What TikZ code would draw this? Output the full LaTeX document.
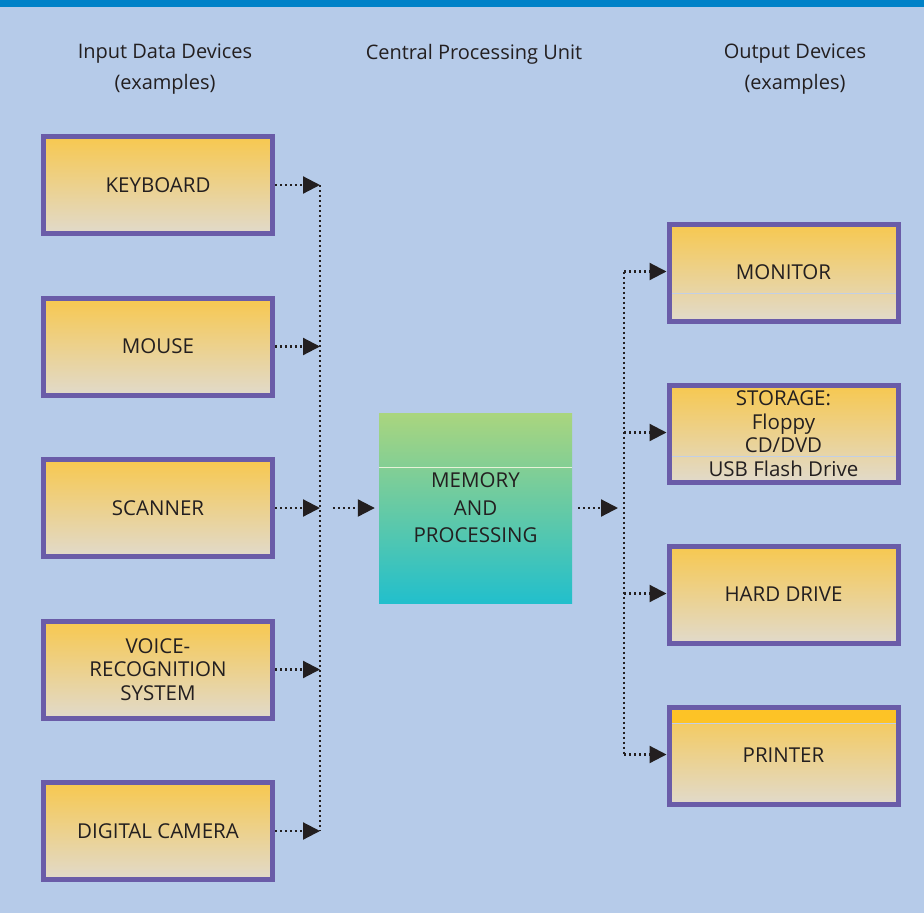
\documentclass[tikz,border=0pt]{standalone}
\usepackage{fontspec}
\setmainfont{Open Sans}
\usepackage{tikz}
\usetikzlibrary{arrows.meta,positioning}
\definecolor{bgblue}{HTML}{B6CBE9}
\definecolor{barblue}{HTML}{0082C8}
\definecolor{boxpurple}{HTML}{6A5CA8}
\definecolor{boxtop}{HTML}{F7C84F}
\definecolor{boxbottom}{HTML}{E1DACB}
\definecolor{striptop}{HTML}{FDC326}
\definecolor{cputop}{HTML}{AAD57E}
\definecolor{cpubottom}{HTML}{22BFCC}
\definecolor{sepblue}{HTML}{C2CFE6}
\definecolor{ink}{HTML}{231F20}
\tikzset{>={Triangle[length=17pt,width=17pt]},
  dev node/.style={rectangle,draw=boxpurple,line width=5pt,top color=boxtop,bottom color=boxbottom,minimum width=229pt,minimum height=97pt,inner sep=2pt,align=center,text=ink,font=\fontsize{20.5}{23.5}\selectfont},
  cpu node/.style={rectangle,top color=cputop,bottom color=cpubottom,minimum width=193pt,minimum height=190pt,inner sep=0pt,align=center,text=ink,font=\fontsize{20.5}{27.5}\selectfont},
  head node/.style={align=center,text=ink,font=\fontsize{20}{31}\selectfont},
  link/.style={draw=ink,line width=2.2pt,dash pattern=on 2pt off 3pt},
  sep line/.style={draw=sepblue,line width=1pt}}

\begin{document}
\begin{tikzpicture}[x=1pt,y=-1pt]
    \useasboundingbox (0,0) rectangle (924,913);
    \fill[bgblue] (0,0) rectangle (924,913);
    \fill[barblue] (0,0) rectangle (924,7);

    % headings
    \node[head node] (hin) at (165,69) {Input Data Devices\\(examples)};
    \node[head node] (hcpu) at (474,54) {Central Processing Unit};
    \node[head node] (hout) at (795,69) {Output Devices\\(examples)};

    % input devices
    \node[dev node, on grid] (kbd) at (158,185) {KEYBOARD};
    \node[dev node, on grid] (mse) [below = 161.5pt of kbd] {MOUSE};
    \node[dev node, on grid] (scn) [below = 161.5pt of mse] {SCANNER};
    \node[dev node, on grid] (vrs) [below = 161.5pt of scn] {VOICE-\\RECOGNITION\\SYSTEM};
    \node[dev node, on grid] (cam) [below = 161.5pt of vrs] {DIGITAL CAMERA};

    % processing
    \node[cpu node] (cpu) at (475.5,508) {MEMORY\\AND\\PROCESSING};
    \draw[sep line,draw=white!70!cputop] ([yshift=-55pt]cpu.north west) -- ([yshift=-55pt]cpu.north east);

    % output devices
    \node[dev node, on grid] (mon) at (783.5,272.5) {MONITOR};
    \node[dev node, on grid] (sto) [below = 161pt of mon] {STORAGE:\\Floppy\\CD/DVD\\USB Flash Drive};
    \node[dev node, on grid] (hdd) [below = 161pt of sto] {HARD DRIVE};
    \node[dev node, on grid] (prt) [below = 161pt of hdd] {PRINTER};
    \draw[sep line] ([xshift=5pt,yshift=30.5pt]mon.south west) -- ([xshift=-5pt,yshift=30.5pt]mon.south east);
    \draw[sep line] ([xshift=5pt,yshift=28.5pt]sto.south west) -- ([xshift=-5pt,yshift=28.5pt]sto.south east);
    \fill[striptop] ([xshift=5pt,yshift=-5pt]prt.north west) rectangle ([xshift=-5pt,yshift=-19pt]prt.north east);
    \draw[sep line] ([xshift=5pt,yshift=-19pt]prt.north west) -- ([xshift=-5pt,yshift=-19pt]prt.north east);

    % buses
    \coordinate (inbus) at (320,508);
    \coordinate (outbus) at (624,508);
    \draw[link] (kbd -| inbus) -- (cam -| inbus);
    \draw[link] ([yshift=1pt]mon.west -| outbus) -- ([yshift=1pt]prt.west -| outbus);
    \foreach \dev in {kbd,mse,scn,vrs,cam}
      \draw[link,->] (\dev.east) -- (\dev -| inbus);
    \foreach \dev in {mon,sto,hdd,prt}
      \draw[link,->] ([yshift=1pt]\dev.west -| outbus) -- ([yshift=1pt]\dev.west);
    \draw[link,->,shorten <=13pt,shorten >=4pt] (inbus) -- (cpu);
    \draw[link,->,shorten <=6pt,shorten >=6pt] (cpu) -- (outbus);
  \end{tikzpicture}
\end{document}
